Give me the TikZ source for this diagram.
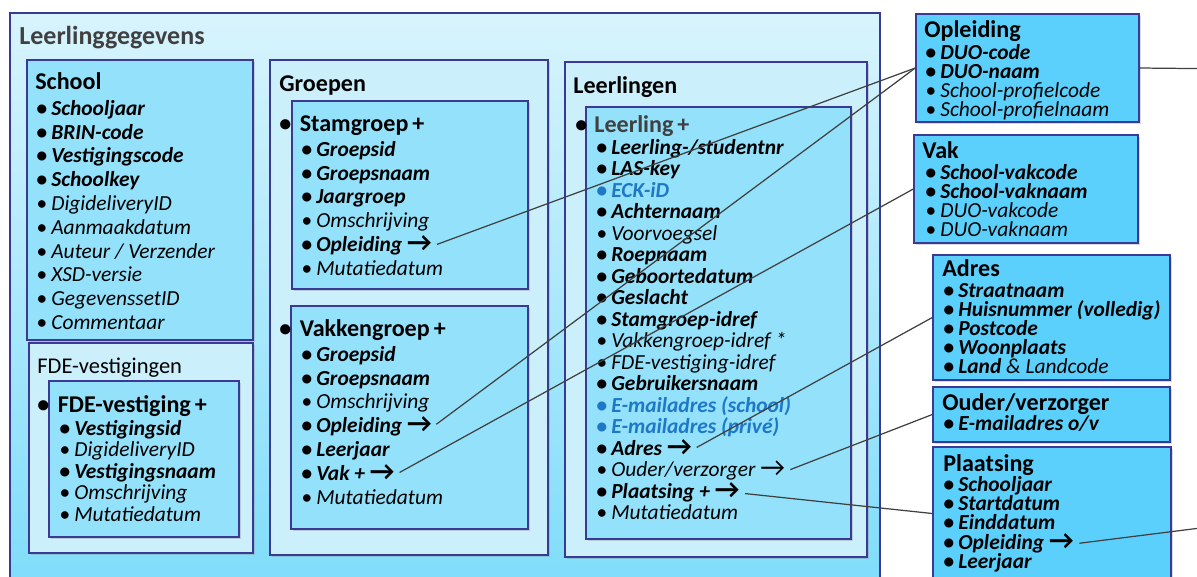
\documentclass[tikz,border=0pt]{standalone}
\usepackage{fontspec}
\setmainfont{Carlito}
\usetikzlibrary{fit}
\usetikzlibrary{shadows}

\definecolor{rand}{RGB}{58,58,150}
\definecolor{lijn}{RGB}{64,64,64}
\definecolor{bgtop}{RGB}{216,244,253}
\definecolor{bgbottom}{RGB}{125,220,250}
\definecolor{vaklicht}{RGB}{204,239,252}
\definecolor{vakmidden}{RGB}{148,225,251}
\definecolor{vakdonker}{RGB}{92,208,252}
\definecolor{nieuwblauw}{RGB}{30,120,200}
\definecolor{kopgrijs}{RGB}{64,64,64}

\newcommand{\itemsize}{\fontsize{12.2pt}{14pt}\selectfont}
\newcommand{\kopsize}{\fontsize{13.7pt}{16pt}\selectfont}
\newcommand{\pijl}{{\upshape\fontsize{15.5pt}{15.5pt}\selectfont →}}
\newcommand{\punt}{\makebox[0.41cm][l]{\textbullet}}

\begin{document}
\begin{tikzpicture}[x=0.02cm, y=-0.02cm,
  outer/.style={draw=rand, line width=0.8pt, top color=bgtop, bottom color=bgbottom, inner sep=0pt},
  group/.style={draw=rand, line width=0.8pt, fill=vaklicht, inner sep=0pt,
    drop shadow={shadow xshift=1.2pt, shadow yshift=-1.2pt, opacity=0.3}},
  entity/.style={group, fill=vakmidden},
  ref/.style={group, fill=vakdonker},
  kop/.style={anchor=west, inner sep=0pt, font=\kopsize\bfseries, text height=10pt, text depth=3pt},
  hoofdkop/.style={kop, font=\fontsize{14.8pt}{17pt}\selectfont\bfseries, text=kopgrijs},
  item/.style={anchor=west, inner sep=0pt, text height=9pt, text depth=3pt,
    execute at begin node={\makebox[0.3cm][l]{\textbullet}}},
  keyitem/.style={font=\itemsize\bfseries\itshape},
  optitem/.style={font=\itemsize\itshape},
  newitem/.style={keyitem, text=nieuwblauw},
  link/.style={draw=lijn, line width=0.7pt, shorten <=3pt}
]
\path[use as bounding box, clip] (0,0) rectangle (1197,576);

% kaders
\node[outer, fit={(10,13) (880,600)}] (gegevens) {};
\node[entity, fit={(27,60) (253,340)}] (school) {};
\node[group, fit={(29,343) (253,553)}] (fdevestigingen) {};
\node[entity, fit={(49,381) (239,537)}] (fdevestiging) {};
\node[group, fit={(270,60) (548,555)}] (groepen) {};
\node[entity, fit={(292,101) (528,289)}] (stamgroep) {};
\node[entity, fit={(291,306) (528,529)}] (vakkengroep) {};
\node[group, fit={(565,62) (867,557)}] (leerlingen) {};
\node[entity, fit={(586,107) (851,539)}] (leerling) {};
\node[ref, fit={(916,14) (1139,122)}] (opleiding) {};
\node[ref, fit={(914,135) (1138,243)}] (vak) {};
\node[ref, fit={(933,255) (1170,380)}] (adres) {};
\node[ref, fit={(933,387) (1170,442)}] (ouder) {};
\node[ref, fit={(933,447) (1171,580)}] (plaatsing) {};

% koppen
\node[hoofdkop] (kop-gegevens) at (19,38) {Leerlinggegevens};
\node[kop] (kop-school) at (35,83) {School};
\node[kop, font=\fontsize{12.8pt}{15pt}\selectfont] (kop-fde) at (37,367) {FDE-vestigingen};
\node[kop] (kop-fdev) at (37,406) {\punt FDE-vestiging\,+};
\node[kop] (kop-groepen) at (279,85) {Groepen};
\node[kop] (kop-stam) at (279,125) {\punt Stamgroep\,+};
\node[kop] (kop-vakgr) at (279,330) {\punt Vakkengroep\,+};
\node[kop] (kop-leerlingen) at (573,87) {Leerlingen};
\node[kop] (kop-leerling) at (575,126) {\makebox[0.38cm][l]{\textbullet}\textcolor{kopgrijs}{Leerling\,+}};
\node[kop] (kop-opleiding) at (924,31) {Opleiding};
\node[kop] (kop-vak) at (922,152) {Vak};
\node[kop] (kop-adres) at (942,270) {Adres};
\node[kop] (kop-ouder) at (942,404) {Ouder/verzorger};
\node[kop] (kop-plaatsing) at (943,465) {Plaatsing};

% lijsten
\foreach \st/\t [count=\i] in {keyitem/Schooljaar, keyitem/BRIN-code, keyitem/Vestigingscode,
    keyitem/Schoolkey, optitem/DigideliveryID, optitem/Aanmaakdatum, optitem/{Auteur / Verzender},
    optitem/XSD-versie, optitem/GegevenssetID, optitem/Commentaar}
  \node[item, \st] (school-\i) at (36, {110+(\i-1)*23.8}) {\t};

\foreach \st/\t [count=\i] in {keyitem/Vestigingsid, optitem/DigideliveryID, keyitem/Vestigingsnaam,
    optitem/Omschrijving, optitem/Mutatiedatum}
  \node[item, \st] (fde-\i) at (59, {430+(\i-1)*21.5}) {\t};

\foreach \st/\t [count=\i] in {keyitem/Groepsid, keyitem/Groepsnaam, keyitem/Jaargroep,
    optitem/Omschrijving, keyitem/{Opleiding \pijl}, optitem/Mutatiedatum}
  \node[item, \st] (stam-\i) at (301, {151+(\i-1)*23.8}) {\t};

\foreach \st/\t [count=\i] in {keyitem/Groepsid, keyitem/Groepsnaam, optitem/Omschrijving,
    keyitem/{Opleiding \pijl}, keyitem/Leerjaar, keyitem/{Vak + \pijl}, optitem/Mutatiedatum}
  \node[item, \st] (vakgr-\i) at (301, {356+(\i-1)*23.8}) {\t};

\foreach \st/\t [count=\i] in {keyitem/{Leerling-/studentnr}, keyitem/LAS-key, newitem/ECK-iD,
    keyitem/Achternaam, optitem/Voorvoegsel, keyitem/Roepnaam, keyitem/Geboortedatum,
    keyitem/Geslacht, keyitem/Stamgroep-idref, optitem/{Vakkengroep-idref *},
    optitem/FDE-vestiging-idref, keyitem/Gebruikersnaam, newitem/{E-mailadres (school)},
    newitem/{E-mailadres (privé)}, keyitem/{Adres \pijl}, optitem/{Ouder/verzorger \pijl},
    keyitem/{Plaatsing + \pijl}, optitem/Mutatiedatum}
  \node[item, \st] (llg-\i) at (596, {149+(\i-1)*21.5}) {\t};

\foreach \st/\t [count=\i] in {keyitem/DUO-code, keyitem/DUO-naam, optitem/School-profielcode,
    optitem/School-profielnaam}
  \node[item, \st] (opl-\i) at (925, {54+(\i-1)*19}) {\t};

\foreach \st/\t [count=\i] in {keyitem/School-vakcode, keyitem/School-vaknaam, optitem/DUO-vakcode,
    optitem/DUO-vaknaam}
  \node[item, \st] (vak-\i) at (925, {174+(\i-1)*19}) {\t};

\foreach \st/\t [count=\i] in {keyitem/Straatnaam, keyitem/{Huisnummer (volledig)}, keyitem/Postcode,
    keyitem/Woonplaats, keyitem/{Land \textmd{\& Landcode}}}
  \node[item, \st] (adres-\i) at (943, {292+(\i-1)*19}) {\t};

\node[item, keyitem] (ouder-1) at (943,425) {E-mailadres o/v};

\foreach \st/\t [count=\i] in {keyitem/Schooljaar, keyitem/Startdatum, keyitem/Einddatum,
    keyitem/{Opleiding \pijl}, keyitem/Leerjaar}
  \node[item, \st] (plaats-\i) at (943, {486+(\i-1)*19.3}) {\t};

% verwijzingen
\coordinate (uit-opleiding) at (1240,69);
\coordinate (uit-plaatsing) at (1240,523);
\draw[link] (stam-5.east) -- (opleiding.west);
\draw[link] (vakgr-4.east) -- (opleiding.west);
\draw[link] (vakgr-6.east) -- (vak.west);
\draw[link] (llg-15.east) -- (adres.west);
\draw[link] (llg-16.east) -- (ouder.west);
\draw[link] (llg-17.east) -- (plaatsing.west);
\draw[link] (plaats-4.east) -- (uit-plaatsing);
\draw[link, shorten <=0pt] (opleiding.east) -- (uit-opleiding);
\end{tikzpicture}
\end{document}
